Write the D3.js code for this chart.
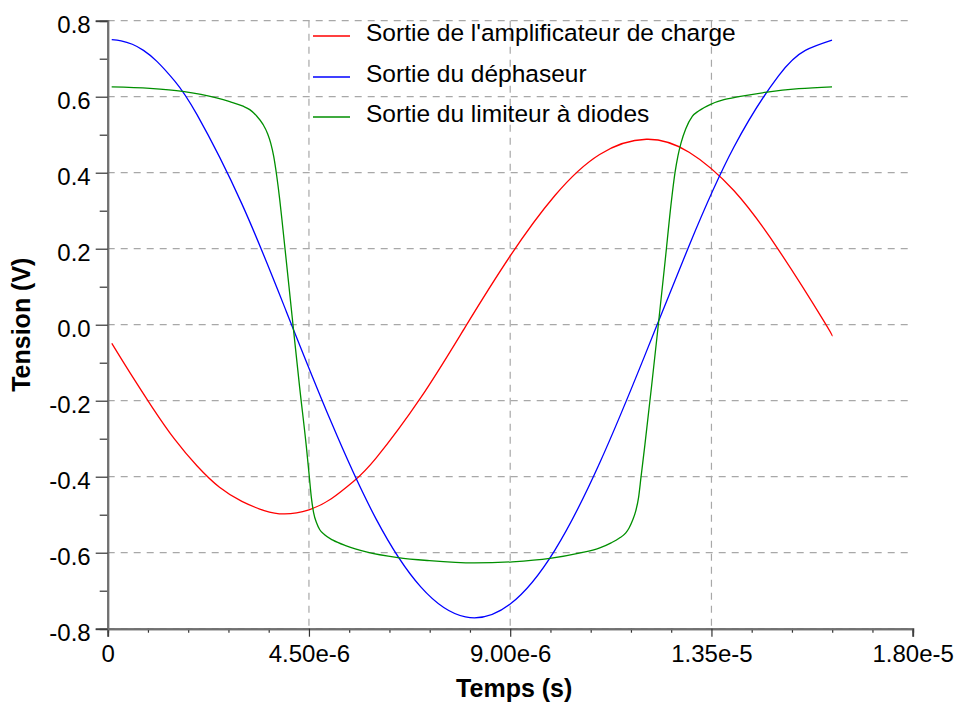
<!DOCTYPE html>
<html>
<head>
<meta charset="utf-8">
<script src="https://cdn.jsdelivr.net/npm/d3@7"></script>
<style>
  html, body { margin: 0; padding: 0; background: #fff; }
  svg { display: block; font-family: "Liberation Sans", Arial, sans-serif; }
</style>
</head>
<body>
<svg id="chart" width="960" height="704"></svg>
<script>
// ---- Data (time in microseconds, tension in volts) ----
const redT   = [0.09, 0.5, 1.0, 1.5, 2.0, 2.5, 3.0, 3.5, 3.958, 4.5, 5.0, 5.5, 6.0, 7.0, 8.0, 9.0, 10.0, 11.0, 12.045, 13.0, 14.0, 15.0, 16.0, 16.196];
const redV   = [-0.049, -0.127, -0.218, -0.302, -0.372, -0.428, -0.465, -0.489, -0.498, -0.487, -0.458, -0.412, -0.351, -0.192, -0.005, 0.181, 0.340, 0.448, 0.488, 0.454, 0.353, 0.197, 0.012, -0.030];

const blueT  = [0.09, 0.3, 0.55, 0.8, 1.1, 1.5, 2, 3, 4, 5, 6, 7, 8, 9, 10, 11, 12, 13, 14, 15, 15.6, 16.196];
const blueV  = [0.750, 0.747, 0.738, 0.722, 0.693, 0.641, 0.552, 0.318, 0.033, -0.257, -0.511, -0.690, -0.769, -0.735, -0.593, -0.364, -0.084, 0.208, 0.467, 0.655, 0.722, 0.749];

const greenT = [0.089, 0.944, 1.674, 2.433, 2.730, 3.027, 3.176, 3.326, 3.473, 3.578, 3.645, 3.712, 3.779, 3.846, 3.920, 4.143, 4.292, 4.442, 4.504, 4.554, 4.605, 4.672, 4.739, 4.850, 5.036, 5.335, 5.781, 6.487, 7.194, 8.199, 9.047, 9.888, 10.542, 10.989, 11.257, 11.435, 11.585, 11.658, 11.732, 11.808, 11.870, 11.926, 12.013, 12.163, 12.312, 12.462, 12.609, 12.685, 12.752, 12.819, 12.924, 13.071, 13.221, 13.482, 13.779, 14.114, 14.745, 15.453, 16.196];
const greenV = [0.626, 0.622, 0.614, 0.597, 0.587, 0.575, 0.566, 0.550, 0.527, 0.502, 0.478, 0.443, 0.392, 0.330, 0.250, 0.0, -0.165, -0.321, -0.395, -0.455, -0.495, -0.522, -0.539, -0.553, -0.567, -0.582, -0.598, -0.613, -0.621, -0.627, -0.624, -0.615, -0.601, -0.588, -0.574, -0.562, -0.548, -0.535, -0.516, -0.490, -0.455, -0.400, -0.315, -0.160, 0.0, 0.165, 0.330, 0.400, 0.445, 0.478, 0.515, 0.548, 0.563, 0.580, 0.592, 0.600, 0.612, 0.621, 0.626];

const seriesNames  = ["Sortie de l'amplificateur de charge", "Sortie du déphaseur", "Sortie du limiteur à diodes"];
const seriesColors = ["#ff0000", "#0000ff", "#008f00"];

const xTickValues = [0, 4.5e-6, 9.0e-6, 1.35e-5, 1.8e-5];
const xTickLabels = ["0", "4.50e-6", "9.00e-6", "1.35e-5", "1.80e-5"];
const yTickValues = [0.8, 0.6, 0.4, 0.2, 0.0, -0.2, -0.4, -0.6, -0.8];
const yTickLabels = ["0.8", "0.6", "0.4", "0.2", "0.0", "-0.2", "-0.4", "-0.6", "-0.8"];
const xTitle = "Temps (s)";
const yTitle = "Tension (V)";

// ---- Layout ----
const svg = d3.select("#chart");
const mLeft = 107.7, mRight = 912.7, mTop = 20.7, mBottom = 628.7;

const x = d3.scaleLinear().domain([0, 1.8e-5]).range([mLeft, mRight]);
const y = d3.scaleLinear().domain([-0.8, 0.8]).range([mBottom, mTop]);

const gridColor = "#a8a8a8";

// Horizontal grid
svg.append("g").selectAll("line").data(yTickValues).join("line")
  .attr("x1", mLeft).attr("x2", mRight)
  .attr("y1", d => y(d)).attr("y2", d => y(d))
  .attr("stroke", gridColor).attr("stroke-width", 1.2)
  .attr("stroke-dasharray", "7,6");

// Vertical grid (interior)
svg.append("g").selectAll("line").data(xTickValues.slice(1, -1)).join("line")
  .attr("x1", d => x(d)).attr("x2", d => x(d))
  .attr("y1", mTop).attr("y2", mBottom)
  .attr("stroke", gridColor).attr("stroke-width", 1.2)
  .attr("stroke-dasharray", "7,6");

// Minor ticks
const xMinor = d3.range(0, 21).map(i => i * 0.9e-6).filter((d, i) => i % 5 !== 0);
const yMinor = d3.range(0, 8).map(i => -0.7 + i * 0.2);

const xAxisMinor = svg.append("g").attr("transform", `translate(0,${mBottom})`)
  .call(d3.axisBottom(x).tickValues(xMinor).tickSize(4).tickFormat(""));
const yAxisMinor = svg.append("g").attr("transform", `translate(${mLeft},0)`)
  .call(d3.axisLeft(y).tickValues(yMinor).tickSize(8).tickFormat(""));

// Major axes
const xAxis = svg.append("g").attr("transform", `translate(0,${mBottom})`)
  .call(d3.axisBottom(x).tickValues(xTickValues).tickSize(8)
    .tickFormat((d, i) => xTickLabels[i]));
const yAxis = svg.append("g").attr("transform", `translate(${mLeft},0)`)
  .call(d3.axisLeft(y).tickValues(yTickValues).tickSize(12)
    .tickFormat((d, i) => yTickLabels[i]));

[xAxisMinor, yAxisMinor, xAxis, yAxis].forEach(g => {
  g.attr("font-family", null);
  g.select(".domain").attr("stroke", "#707070").attr("stroke-width", 2);
  g.selectAll(".tick line").attr("stroke", "#333").attr("stroke-width", 1.2);
});
xAxis.selectAll(".tick text")
  .attr("font-size", 24).attr("fill", "#000").attr("dy", null).attr("y", 33);
yAxis.selectAll(".tick text")
  .attr("font-size", 24).attr("fill", "#000").attr("x", -17).attr("dy", "0.5em");

// Axis titles
svg.append("text")
  .attr("x", (mLeft + mRight) / 2 + 4).attr("y", 697)
  .attr("text-anchor", "middle").attr("font-size", 25).attr("font-weight", "bold")
  .text(xTitle);
svg.append("text")
  .attr("transform", `translate(30,${(mTop + mBottom) / 2}) rotate(-90)`)
  .attr("text-anchor", "middle").attr("font-size", 25).attr("font-weight", "bold")
  .text(yTitle);

// Lines
const seriesData = [
  redT.map((t, i) => [t * 1e-6, redV[i]]),
  blueT.map((t, i) => [t * 1e-6, blueV[i]]),
  greenT.map((t, i) => [t * 1e-6, greenV[i]])
];
const smooth = d3.line().x(d => x(d[0])).y(d => y(d[1])).curve(d3.curveNatural);
const mono = d3.line().x(d => x(d[0])).y(d => y(d[1])).curve(d3.curveMonotoneX);

svg.append("g").selectAll("path").data(seriesData).join("path")
  .attr("d", (d, i) => i === 2 ? mono(d) : smooth(d))
  .attr("fill", "none")
  .attr("stroke", (d, i) => seriesColors[i])
  .attr("stroke-width", 1.3);

// Legend
const legendRowsY = [36, 77, 117];
const legend = svg.append("g");
seriesNames.forEach((name, i) => {
  legend.append("line")
    .attr("x1", 313).attr("x2", 350)
    .attr("y1", legendRowsY[i]).attr("y2", legendRowsY[i])
    .attr("stroke", seriesColors[i]).attr("stroke-width", 1.6);
  legend.append("text")
    .attr("x", 366).attr("y", legendRowsY[i] + 5)
    .attr("font-size", 24.5).attr("fill", "#000")
    .text(name);
});
</script>
</body>
</html>
